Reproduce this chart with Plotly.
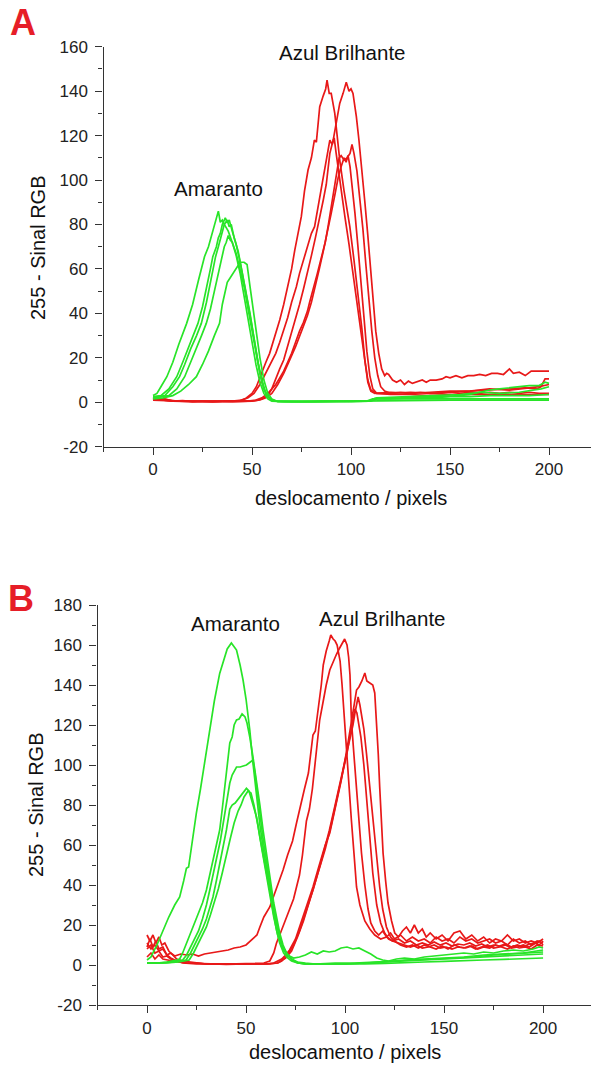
import plotly.graph_objects as go

W, H = 591, 1068
RED = "rgb(232,24,24)"
GREEN = "rgb(40,228,40)"
INK = "#222222"
FONT = "Liberation Sans, Arial, sans-serif"

# ---------------- tick labels ----------------
X_TICKS = [0, 50, 100, 150, 200]
X_TICK_TEXT = ["0", "50", "100", "150", "200"]
X_MINOR = [-25, 25, 75, 125, 175, 225]
A_Y_TICKS = [-20, 0, 20, 40, 60, 80, 100, 120, 140, 160]
A_Y_TICK_TEXT = ["-20", "0", "20", "40", "60", "80", "100", "120", "140", "160"]
A_Y_MINOR = [-10, 10, 30, 50, 70, 90, 110, 130, 150]
B_Y_TICKS = [-20, 0, 20, 40, 60, 80, 100, 120, 140, 160, 180]
B_Y_TICK_TEXT = ["-20", "0", "20", "40", "60", "80", "100", "120", "140", "160", "180"]
B_Y_MINOR = [-10, 10, 30, 50, 70, 90, 110, 130, 150, 170]

# ---------------- Panel A: Amaranto (green) ----------------
A_G1 = [(0,3),(2,4),(4,7),(7,11.5),(10,18),(13,26),(17,35.5),(20,44),(23,55),(26,65.5),(28,70),(30,76),(31,79),(32,82),(33,86),(34,81),(35,82),(36,80),(38,77),(40,72),(42,66),(44,58),(46,48),(48,38),(50,28),(52,17),(54,9),(56,4),(58,1.5),(60,0.5),(66,0.3),(80,0.3),(90,0.5),(100,0.3),(108,0.5),(111,1.5),(120,1.5),(130,2),(140,2),(150,2.5),(160,2.5),(170,3),(180,3),(190,3),(200,3.5)]
A_G2 = [(0,2.5),(4,3),(8,6),(12,11.5),(15,18),(18,25),(20.5,31),(22.7,35.5),(25,43),(27,51),(29,60),(30.2,65.5),(32,70),(33,74),(34,76),(35,80),(36.5,83),(37.5,81),(38.5,82),(40,77),(42,71),(44,63),(46,54),(48,44),(50,34),(52,23),(54,13),(56,6),(58,2.5),(60,1),(62,0.5),(70,0.3),(85,0.5),(100,0.3),(109,0.5),(112,1.8),(125,2),(135,2.5),(145,2.5),(155,3),(160,3.5),(165,4.5),(170,5.5),(175,6),(180,6.5),(185,7),(190,7.5),(195,7.5),(198,9),(200,8.5)]
A_G3 = [(0,2),(6,3),(10,7),(13.4,11.5),(16,17),(19,24),(22,30),(24.4,35.5),(27,45),(29,54),(31.6,65.5),(33,70),(35,77),(36,80),(37.5,82),(38.5,79),(39.5,80),(41,74),(43,68),(45,59),(47,50),(49,40),(51,29),(53,18),(55,10),(57,4),(59,1.5),(62,0.5),(75,0.3),(95,0.5),(110,0.5),(113,1.5),(130,1.5),(150,1.5),(170,1.5),(200,1.5)]
A_G4 = [(0,2),(8,3),(12,6),(16,11.5),(19,18),(22,25),(24.5,30),(26.9,35.5),(29,42),(31,50),(33,58),(34.5,64),(36,70),(37,72),(38,75),(39,73),(40,72),(42,67),(44,60),(46,52),(48,42),(50,32),(52,22),(54,13),(56,6),(58,2.5),(61,0.5),(80,0.3),(100,0.5),(110,0.8),(113,2),(130,2.5),(145,3),(155,3.5),(165,4.5),(175,4),(185,4.5),(192,5.5),(196,6),(200,7)]
A_G5 = [(0,1.5),(5,2),(10,3),(14,5),(18,8),(21.9,11.5),(25,17),(28,23),(31,30),(33.6,35.5),(35,44),(36.5,51),(37.5,54),(39,56),(41,59),(43,62),(44,63),(46,63),(47.5,62),(49,52),(50.5,42),(52,32),(54,20),(56,10),(58,4),(60,1.5),(63,0.3),(80,0.3),(100,0.5),(120,0.8),(150,1),(180,1),(200,1)]

# ---------------- Panel A: Azul Brilhante (red) ----------------
A_R1 = [(0,2),(3,1.5),(6,1.5),(10,0.5),(15,0.8),(20,0.3),(25,0.5),(30,0.3),(35,0.5),(40,0.5),(44,0.8),(47,1.8),(50,4),(52.2,7),(55,14),(57,18),(58.9,22),(61,28),(64,37),(66,44),(68,52),(70,60),(71.6,68.5),(73,75),(74.9,83.5),(76.5,95),(78.3,104.5),(80,110),(81.5,118),(82.5,117),(83.5,126),(84.2,133),(86,138),(87.2,141),(87.9,145),(89,139),(90,139),(91.8,130),(93,120),(94.3,109),(96.5,95),(99.4,79),(101.5,64),(103.6,49),(105.5,33),(107,19),(108.5,10),(110,5.5),(113,4),(120,4),(125,4.5),(130,4),(135,4.5),(140,4),(145,4),(150,4.5),(155,4),(160,4.5),(165,4),(170,4.5),(175,4),(180,4.5),(185,4),(190,4.5),(195,4),(200,4)]
A_R2 = [(0,2),(4,1.5),(8,1),(12,0.5),(20,0.5),(30,0.3),(40,0.5),(48,0.5),(52,0.8),(55,1.5),(58,3),(60,6),(62,11),(64,15),(66,19),(68,25),(70,31),(72,37),(74,44),(76,51),(78,58),(80,66),(82,74),(84,82),(86,91),(87.5,98),(89.3,112),(91,118),(92.6,125.5),(94.3,134.5),(96,139),(97.6,144),(99,140),(100,141),(101,139),(102.7,128.5),(104,118),(105.5,105),(107,90),(108.5,75),(110,58),(111.5,42),(112.5,32),(114,22),(115.5,15),(117,12),(118,13),(119,12.5),(121,10),(123,9),(125,10),(127,8),(129,9.5),(131,8.5),(133,9),(136,10),(138,9),(140,10),(143,10),(146,10.5),(148,11.5),(150,11),(153,12),(156,11),(159,12),(162,12),(165,12.5),(168,12),(171,13),(174,13),(177,12.5),(180,15),(182,13),(185,13.5),(188,12),(191,14),(194,14),(197,14),(200,14)]
A_R3 = [(0,1.5),(5,1),(10,0.5),(20,0.5),(30,0.3),(40,0.5),(45,1),(48,2),(51,4),(54,8),(57,13),(60,18),(62,22),(64,27),(66,32),(68,38),(70,45),(72.4,52),(74,58),(76,64),(78,70),(80,76),(81.6,79),(83,86),(85,95),(86.5,104),(87.5,108),(88.5,114),(89.3,118),(90.5,116),(91.5,119),(92.5,112),(93.5,105),(95,96),(97,83),(99,71),(101,58),(103,44),(105,30),(107,17),(108.5,9),(110,5),(112,4),(120,4.5),(130,4),(140,4.5),(150,5),(160,5),(170,5.5),(180,6),(188,6.5),(194,6),(196,7),(198,10.5),(200,10.5)]
A_R4 = [(0,1.5),(5,1),(10,0.5),(20,0.3),(30,0.5),(40,0.3),(48,0.5),(52,1),(55,2),(58,4),(60,6),(62,8),(64,11),(66,14),(68,18),(70,22),(72,27),(74,32),(76,36),(78,41),(79.1,45),(81,52),(83,58),(85,65),(87,72),(88.4,79),(90,88),(91.5,96),(92.6,104),(94,110),(95,111),(96.5,109),(98,110),(99.5,112),(100.5,116),(101.5,112),(103,104),(104.5,92),(106,78),(107.5,62),(109,46),(110.5,32),(112,20),(113.5,12),(115,7),(117,5),(120,4),(130,4.5),(140,4),(150,4.5),(160,5),(170,6),(180,5.5),(190,6.5),(195,7),(200,8)]
A_R5 = [(0,1),(10,0.5),(20,0.3),(30,0.5),(40,0.3),(50,0.5),(54,1),(57,2),(60,4),(63,8),(66,13),(69,19),(72,25),(75,32),(78,39),(80,45),(82,52),(84,60),(86,68),(88,76),(90,85),(92,94),(93.5,101),(95,106),(96.5,110),(97.5,108),(98.5,111),(99.5,106),(100.5,98),(102,85),(103.5,70),(105,54),(106.5,38),(108,23),(109.5,12),(111,6),(113,4),(120,3.5),(130,3.5),(140,3),(150,3.5),(160,3.5),(170,3.5),(180,3.5),(190,3.5),(200,3.5)]

# ---------------- Panel B: Amaranto (green) ----------------
B_G1 = [(0,2.5),(2,4),(5,10),(8.1,17.5),(11,24),(14,30),(16.5,34),(18.5,42),(19.9,48.3),(21,49),(23,64),(24.9,75.8),(27,88),(29,101),(31.7,117.5),(34,132),(36.7,145.8),(38.5,152),(40.5,158),(42.6,161),(44,159),(45.2,157.5),(47,150),(48.5,142.5),(50,133),(51.9,117.5),(53.5,101),(55.3,84),(57,70),(58.6,59),(60,51),(62,37.5),(64,27),(65.4,21),(67,14),(68.7,9),(71,5),(73.7,2.5),(76,1),(80,0.5),(90,0.5),(100,0.3),(110,0.5),(120,0.8),(130,1),(140,1.5),(150,1.8),(160,2),(170,2.5),(180,2.8),(190,3),(200,3.5)]
B_G2 = [(0,1),(5,1),(10,1.5),(13,2),(15,2.5),(16.5,3),(18,6),(20,11),(22,16),(24,20),(26,25),(28,31),(30,37.5),(32,46),(34,55),(36.7,67.5),(38,78),(39.5,92),(41,104),(41.8,111),(43,114),(44,120),(45.2,122.5),(46.5,123),(48,125.5),(49.5,124),(50.5,121),(51.9,114),(53.5,104),(55.3,92.5),(57,80),(58.6,67.5),(60,58),(62,44),(64,31),(65.4,24),(67,16),(68.7,10),(70.5,6),(72,4),(74,2),(77,1),(80,0.5),(90,0.5),(100,0.5),(110,1),(120,1.5),(130,2),(140,2.5),(150,3),(160,3.5),(170,4),(180,4.5),(190,5),(200,5.5)]
B_G3 = [(0,1),(6,1),(12,1.5),(16,2),(18,2.5),(20,5),(22,9),(24,13),(26,17),(28,23),(30,30),(31.7,37.5),(33.5,46),(35,52),(37,62),(39,74),(40.5,84),(41.8,91),(43,95),(44.5,98),(45.2,99),(47,99),(48.5,99.5),(50.2,100),(51.5,101),(53.5,102.5),(54.5,96),(56,84),(57.5,72),(58.6,63),(60.5,51),(62,40.5),(63.5,31),(65,23),(67,14),(69,8),(71,4.5),(73,3),(76,1.5),(80,1),(85,0.5),(95,1),(105,1),(115,1.5),(125,2),(135,2.5),(145,3),(155,3.5),(165,4),(175,5),(185,5.5),(195,6),(200,6.5)]
B_G4 = [(0,1),(8,1),(14,1.5),(18,2),(19.7,2.5),(22,6),(24,10),(26,14),(28,18),(30,23),(31.5,28),(33.3,34),(35,42),(37,52),(38.5,60),(40.1,67.5),(41.8,78),(43,80),(44.5,81),(46.8,84),(48.5,86),(50.2,88.3),(51.5,87),(53,82),(55.3,74),(57,64),(58.6,56),(60.5,46),(62,37.5),(63.5,28),(65.4,17.5),(67,11),(69,6),(71,3.5),(73,2),(76,1),(80,0.5),(90,0.5),(100,0.5),(110,1),(120,1.5),(130,2.5),(140,3),(150,3.5),(160,4),(170,5),(180,5.5),(190,6),(200,7.5)]
B_G5 = [(0,1),(10,1),(16,1.5),(20,2),(21.3,2.5),(23.5,6),(25.5,10),(28,15),(30,19),(32,25),(34,31),(36,38),(38,46),(40,55),(42,63),(44,71),(46,77),(47.5,80),(49,84),(51,87),(52.5,86),(54,80),(56,70),(58,58),(60,46),(62,35),(64,24),(66,15),(68,9),(70,6),(72,4.5),(74,3.5),(77,4),(80,5),(83,6.5),(86,5.5),(89,7),(92,6.5),(95,7),(98,8.5),(101,9),(104,8),(107,8.5),(110,7),(113,5.5),(116,3.5),(119,2.5),(122,2),(126,3),(130,3.5),(135,3),(140,4),(145,4.5),(150,5),(155,5.5),(160,6),(165,5.5),(170,6.5),(175,6),(180,7),(185,7.5),(190,7),(195,8),(198,9),(200,8.5)]

# ---------------- Panel B: Azul Brilhante (red) ----------------
B_R1 = [(0,9),(1.5,13),(3,9),(4.5,12),(6,8),(8,9),(10,5),(12,6),(14,4.5),(17,5.5),(20,5),(23,5.5),(26,4.5),(29,5.5),(32,6),(35,6.5),(38,7),(41,7.5),(44,8.5),(47,9),(50,10),(52,12),(54,14),(55.5,15),(57,19),(59,24),(62,29),(65,37),(68.7,47.5),(71,55),(73.5,62),(75.5,71),(77.5,80),(79.5,88),(81.5,96),(83.8,115),(85,117),(86.5,128),(88,140),(89,150),(90.5,157),(92,162),(92.8,165),(94,163),(95,162),(96,160),(97.5,152),(98.5,140),(99.5,125),(100.7,106),(102,88),(103.2,72.5),(104.5,56),(105.8,39),(107.5,30),(110,22),(112.5,18),(115,15),(118,13),(121,14),(124,12),(127,13),(130,11),(133,12),(136,10),(139,11),(142,10),(145,11.5),(148,10),(151,11),(154,9.5),(157,10.5),(160,10),(163,11),(166,9.5),(169,10.5),(172,9),(175,10),(178,9.5),(181,10.5),(184,9),(187,10),(190,9),(193,10.5),(196,11),(198,10),(200,12)]
B_R2 = [(0,4),(2,6),(4,3),(6,5),(8,3),(10,2.5),(13,2),(16,1.5),(20,1),(25,1),(30,0.5),(40,0.5),(50,0.5),(55,0.8),(59,1),(62,2),(64,6),(65.4,11),(67,15),(69,20),(72,27),(74,33),(77,45),(78.5,55),(80.5,72),(82,78),(83.5,88),(85.6,106),(87.2,122.5),(89,132),(90.5,140),(92.3,147.5),(94,152),(95.5,155),(97,158),(98.5,161),(99.8,163),(101,160),(101.8,154),(102.5,145),(103.2,122.5),(104.5,105),(105.8,89),(107,72),(108.3,56),(110,40),(111.6,28),(113,21),(115,17),(117,15),(119,17),(121,14),(123,16),(125,13),(128,15),(131,12),(134,14),(137,12),(140,13),(143,11),(146,14),(149,12),(152,13),(155,11),(158,14),(161,12),(164,13),(167,11),(170,12),(173,13),(176,11),(179,12),(182,10),(185,13),(188,11),(191,12),(194,10),(197,12),(200,11)]
B_R3 = [(0,15),(1.5,12),(3,15),(4.5,11),(6,14),(7.5,10),(9,11),(11,7),(13,5),(15,3),(18,2),(22,1.5),(26,1),(30,0.5),(40,0.5),(50,0.5),(60,0.5),(64,1),(68,3),(70,5),(72,7.5),(75,13),(77,19),(80,28),(83.8,39),(87,50),(90,60),(92.3,66),(95,78),(98,92),(101,108),(103,120),(104.5,128),(105.8,137.5),(107,139),(108.5,142),(110,146),(111,142),(112.5,141),(114,140),(115,136),(115.9,122.5),(116.8,105),(117.5,89),(118.3,72),(119.2,56),(120.5,42),(121.7,31),(123.5,22),(125.1,16),(127,14),(129,17),(131,19),(133,16),(135,20),(137,16),(139,18),(141,14),(143,16),(146,13),(149,15),(152,12),(155,16),(158,17),(161,13),(164,15),(167,12),(170,14),(173,11),(176,13),(179,12),(182,15),(185,12),(188,13),(191,11),(194,12),(197,11),(200,13)]
B_R4 = [(0,11),(2,8),(4,10),(6,7),(8,8),(10,5),(12,3.5),(15,2),(18,1),(25,0.5),(35,0.5),(45,0.5),(55,0.5),(62,0.5),(66,1),(68,2),(71,5),(74,10),(77,17),(80,26),(84,38),(88,52),(92,67),(95,80),(98,93),(101,106),(103,116),(104,120),(105,126),(106.6,134),(107.5,130),(108.5,124),(109.5,118),(110.8,106),(112.5,88),(114.1,72.5),(115.8,55),(117.5,39),(119,28),(120.9,19),(123,14),(125,12),(128,10),(131,9),(134,10),(137,8.5),(140,10),(143,9),(146,8),(149,9.5),(152,8),(155,10),(158,9),(161,8.5),(164,9.5),(167,8),(170,9),(173,8.5),(176,10),(179,9),(182,8),(185,9.5),(188,8.5),(191,9),(194,8),(197,10),(200,9.5)]
B_R5 = [(0,8),(2,10),(4,6),(6,7),(8,4),(10,4.5),(12,3),(15,2),(20,1),(30,0.5),(40,0.3),(50,0.5),(60,0.5),(66,1),(70,3.5),(73,7),(76,14),(79,22),(82,32),(86,45),(90,58),(93,70),(96,83),(99,97),(101,106),(102,112),(103,118),(104,124),(105,128),(106,126),(107,120),(108,114),(109.5,100),(111,82),(112.5,64),(114,46),(116,30),(118,21),(120,16),(122,13),(124,12),(127,11),(130,10),(133,9),(136,10),(139,8.5),(142,9),(145,10),(148,8.5),(151,9),(154,8),(157,9),(160,8.5),(163,9.5),(166,8),(169,9),(172,10),(175,8.5),(178,9),(181,10),(184,8.5),(187,9),(190,10),(193,9),(196,11),(198,12),(200,10)]

A_RED = [A_R1, A_R2, A_R3, A_R4, A_R5]
A_GREEN = [A_G1, A_G2, A_G3, A_G4, A_G5]
B_RED = [B_R1, B_R2, B_R3, B_R4, B_R5]
B_GREEN = [B_G1, B_G2, B_G3, B_G4, B_G5]


def fx(p):
    return p / W


def fy(p):
    return 1 - p / H


fig = go.Figure()


def add(curves, color, xa, ya):
    for c in curves:
        fig.add_trace(go.Scatter(
            x=[p[0] for p in c], y=[p[1] for p in c], mode="lines",
            line=dict(color=color, width=1.7), xaxis=xa, yaxis=ya,
            showlegend=False, hoverinfo="skip"))


add(A_RED, RED, "x", "y")
add(A_GREEN, GREEN, "x", "y")
add(B_RED, RED, "x2", "y2")
add(B_GREEN, GREEN, "x2", "y2")

tickfont = dict(family=FONT, size=17, color=INK)
axis_common = dict(showline=True, linecolor="#333333", linewidth=1.4,
                   ticks="outside", ticklen=7, tickwidth=1.3, tickcolor="#333333",
                   showgrid=False, zeroline=False, tickfont=tickfont,
                   tickmode="array", mirror=False, automargin=False)


def minor(vals):
    return dict(tickmode="array", tickvals=vals, ticks="outside", ticklen=4,
                tickwidth=1.2, tickcolor="#333333", showgrid=False)


# panel geometry (pixels)
A_LEFT, A_TOP, A_BOTTOM = 103.5, 46.7, 446.7
B_LEFT, B_TOP, B_BOTTOM = 97.5, 605.0, 1005.0

fig.update_layout(
    width=W, height=H, margin=dict(l=0, r=0, t=0, b=0, autoexpand=False),
    paper_bgcolor="white", plot_bgcolor="white",
    xaxis=dict(domain=[fx(A_LEFT), 1], range=[-25, 221.2], anchor="y",
               tickvals=X_TICKS, ticktext=X_TICK_TEXT, minor=minor(X_MINOR), **axis_common),
    yaxis=dict(domain=[fy(A_BOTTOM), fy(A_TOP)], range=[-20, 160], anchor="x",
               tickvals=A_Y_TICKS, ticktext=A_Y_TICK_TEXT, minor=minor(A_Y_MINOR),
               ticklabelstandoff=4, **axis_common),
    xaxis2=dict(domain=[fx(B_LEFT), 1], range=[-25, 224.2], anchor="y2",
                tickvals=X_TICKS, ticktext=X_TICK_TEXT, minor=minor(X_MINOR), **axis_common),
    yaxis2=dict(domain=[fy(B_BOTTOM), fy(B_TOP)], range=[-20, 180], anchor="x2",
                tickvals=B_Y_TICKS, ticktext=B_Y_TICK_TEXT, minor=minor(B_Y_MINOR),
                ticklabelstandoff=4, **axis_common),
)

ann_font = dict(family=FONT, size=20.5, color="#111111")
title_font = dict(family=FONT, size=20, color="#111111")
label_font = dict(family=FONT, size=36, color="rgb(230,30,40)")


def text(x, y, s, font, angle=0):
    fig.add_annotation(x=fx(x), y=fy(y), xref="paper", yref="paper", text=s,
                       showarrow=False, font=font, textangle=angle,
                       xanchor="center", yanchor="middle")


text(23, 23, "<b>A</b>", label_font)
text(21, 598, "<b>B</b>", label_font)
text(218, 189, "Amaranto", ann_font)
text(342, 53, "Azul Brilhante", ann_font)
text(235, 623, "Amaranto", ann_font)
text(382, 618, "Azul Brilhante", ann_font)
text(351, 498, "deslocamento / pixels", title_font)
text(345, 1052, "deslocamento / pixels", title_font)
text(38, 247, "255 - Sinal RGB", title_font, -90)
text(36, 805, "255 - Sinal RGB", title_font, -90)

# remove the browser's default 8px body margin so the figure sits at (0, 0)
fig.write_html("out.html", config={"displayModeBar": False},
               post_script="document.body.style.margin='0';document.body.style.overflow='hidden';")
